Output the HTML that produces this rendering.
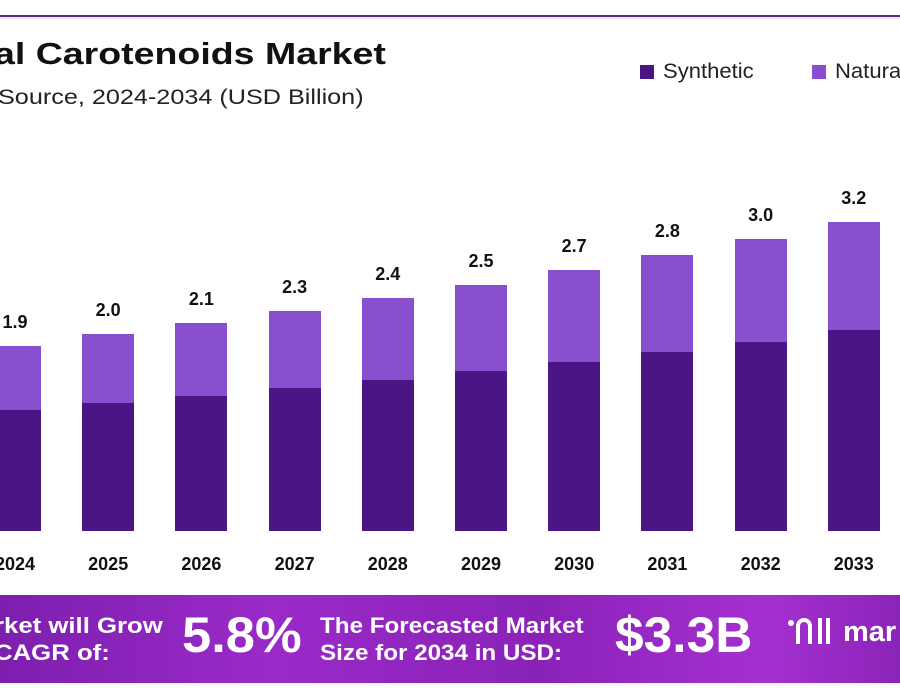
<!DOCTYPE html>
<html><head><meta charset="utf-8"><style>
html,body{margin:0;width:900px;height:700px;overflow:hidden;background:#fff;font-family:"Liberation Sans",sans-serif}
#w{position:relative;width:900px;height:700px;overflow:hidden}
.a{position:absolute;white-space:nowrap;transform-origin:0 0}
.bar{position:absolute;width:52px}
.v{position:absolute;width:80px;text-align:center;font-weight:bold;font-size:18px;color:#111}
.y{position:absolute;width:80px;text-align:center;font-weight:bold;font-size:18px;color:#111;top:554px}
</style></head><body><div id="w">
<div class="a" style="left:0;top:15px;width:900px;height:2px;background:#5a2a7e"></div>
<div class="a" style="left:0;top:17px;width:900px;height:2px;background:#efe6f5"></div>
<div class="a" style="left:-6px;top:36px;font-size:31px;font-weight:bold;color:#111;transform:scaleX(1.21)">al Carotenoids Market</div>
<div class="a" style="left:-2px;top:86px;font-size:21px;color:#222;transform:scaleX(1.2)">Source, 2024-2034 (USD Billion)</div>
<div class="a" style="left:640px;top:65px;width:14px;height:14px;background:#4b1585"></div>
<div class="a" style="left:663px;top:60px;font-size:21px;color:#222;transform:scaleX(1.05)">Synthetic</div>
<div class="a" style="left:812px;top:65px;width:14px;height:14px;background:#8a4fd0"></div>
<div class="a" style="left:835px;top:60px;font-size:21px;color:#222;transform:scaleX(1.05)">Natural</div>
<div id="c"></div>
<div class="a" style="left:0;top:595px;width:900px;height:88px;background:linear-gradient(90deg,#7d1fae,#9a2ac8 30%,#8a22b8 60%,#a530d0 85%,#8b24b8)"></div>
<div class="a" style="left:-6px;top:612px;font-size:22px;font-weight:bold;color:#fff;line-height:27px;transform:scaleX(1.17)">rket will Grow<br>CAGR of:</div>
<div class="a" style="left:182px;top:606px;font-size:50px;font-weight:bold;color:#fff;transform:scaleX(1.05)">5.8%</div>
<div class="a" style="left:320px;top:612px;font-size:22px;font-weight:bold;color:#fff;line-height:27px;transform:scaleX(1.1)">The Forecasted Market<br>Size for 2034 in USD:</div>
<div class="a" style="left:615px;top:606px;font-size:50px;font-weight:bold;color:#fff;transform:scaleX(1.03)">$3.3B</div>
<div class="a" style="left:788px;top:620px;width:6px;height:6px;border-radius:50%;background:#fff"></div>
<div class="a" style="left:796px;top:618px;width:8px;height:22px;border:4px solid #fff;border-bottom:none;border-radius:8px 8px 0 0"></div>
<div class="a" style="left:818px;top:618px;width:4px;height:26px;background:#fff"></div>
<div class="a" style="left:826px;top:618px;width:4px;height:26px;background:#fff"></div>
<div class="a" style="left:843px;top:616px;font-size:29px;font-weight:bold;color:#fff">mar</div>
<script>
var t=[346,334,323,311,298,285,270,255,239,222,205],s=[410,403,396,388,380,371,362,352,342,330,318],
v=["1.9","2.0","2.1","2.3","2.4","2.5","2.7","2.8","3.0","3.2","3.3"],h="";
for(var i=0;i<10;i++){var x=-11+i*93.2,c=x+26;
h+='<div class="bar" style="left:'+x+'px;top:'+t[i]+'px;height:'+(s[i]-t[i])+'px;background:#8a4fcf"></div>';
h+='<div class="bar" style="left:'+x+'px;top:'+s[i]+'px;height:'+(531-s[i])+'px;background:#4b1585"></div>';
h+='<div class="v" style="left:'+(c-40)+'px;top:'+(t[i]-34)+'px">'+v[i]+'</div>';
h+='<div class="y" style="left:'+(c-40)+'px">'+(2024+i)+'</div>';}
document.getElementById('c').innerHTML=h;
</script>
</div></body></html>
